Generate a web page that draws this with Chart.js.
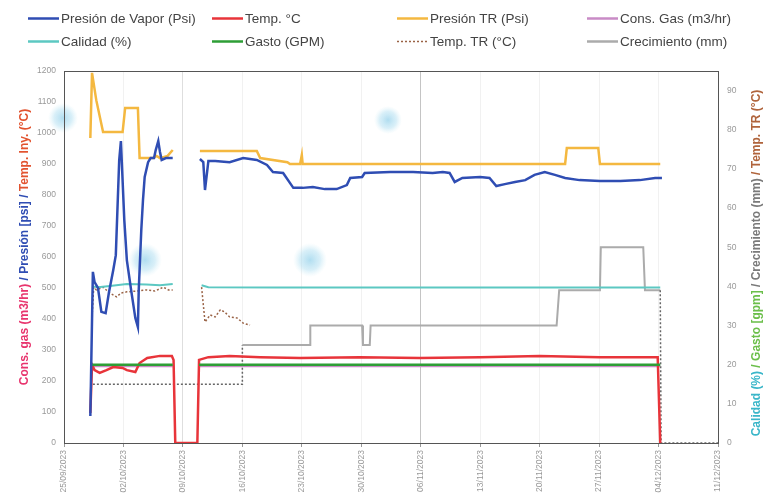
<!DOCTYPE html>
<html lang="es">
<head>
<meta charset="utf-8">
<title>Inyección de vapor</title>
<script src="https://cdn.jsdelivr.net/npm/chart.js@4.4.1/dist/chart.umd.min.js"></script>
<style>
  html, body { margin: 0; padding: 0; background: #fff; }
  #contenedor { position: relative; width: 765px; height: 501px; }
  #grafica { position: absolute; left: 0; top: 0; }
  .leyenda-item {
    position: absolute; height: 14px; display: flex; align-items: center;
    font-family: "Liberation Sans", Arial, sans-serif; font-size: 13.5px; color: #444;
    white-space: nowrap;
  }
  .leyenda-item canvas { margin-right: 2px; }
</style>
</head>
<body>
<div id="contenedor">
  <canvas id="grafica" width="765" height="501"></canvas>
</div>
<script>
/***** DATOS *****/
// etiquetas del eje x (una por semana)
const fechas = ['25/09/2023', '02/10/2023', '09/10/2023', '16/10/2023', '23/10/2023', '30/10/2023',
                '06/11/2023', '13/11/2023', '20/11/2023', '27/11/2023', '04/12/2023', '11/12/2023'];

// Presión de vapor (psi) - eje izquierdo
const vaporDia = [3.1, 3.4, 3.6, 4.0, 4.4, 4.9, 5.3, 5.8, 6.1, 6.5, 6.7, 7.1, 7.4, 7.9, 8.4, 8.7, 8.8, 9.1, 9.3, 9.5,
                  9.9, 10.2, 10.6, 10.8, 11.1, 11.3, 11.5, 12.0, 12.8, 14.4,
                  16.0, 16.4, 16.6, 17.0, 17.8, 19.5, 21.1, 22.7, 23.9, 24.6, 25.8, 27.0, 28.1, 29.3, 30.7, 32.1,
                  33.3, 33.7, 35.1, 35.4, 38.4, 41.1, 43.4, 44.6, 45.4, 46.0, 46.9, 49.0, 50.1, 50.9, 51.9,
                  53.1, 54.3, 55.4, 56.6, 57.8, 59.0, 60.7, 63.1, 65.5, 67.8, 69.6, 70.4];
const vaporPsi = [87, 552, 519, 500, 423, 419, 487, 558, 606, 913, 974, 719, 590, 494, 403, 374, 494, 687, 784, 858,
                  906, 919, 919, 945, 974, 939, 913, 919, 919, null,
                  916, 906, 816, 910, 910, 906, 919, 913, 897, 874, 871, 823, 823, 826, 819, 819,
                  832, 855, 858, 871, 874, 874, 871, 874, 871, 842, 855, 858, 855, 829, 835,
                  842, 848, 865, 874, 865, 855, 848, 845, 845, 848, 855, 855];

// Temperatura de inyección (°C) - eje izquierdo
const tempDia = [3.1, 3.3, 3.6, 4.2, 5.0, 5.8, 6.9, 7.4, 8.4, 8.9, 9.8, 11.3, 12.7, 12.9, 13.1, 15.7, 15.9,
                 17.0, 19.5, 23.1, 27.8, 34.8, 41.9, 49.0, 56.0, 63.1, 69.9, 70.2];
const tempC = [97, 252, 235, 226, 235, 245, 242, 235, 229, 258, 274, 281, 281, 268, 0, 0, 268,
               277, 281, 277, 274, 277, 274, 277, 281, 277, 277, 0];

// Presión en TR (psi) - eje izquierdo
const presionTrDia = [3.1, 3.3, 3.8, 4.6, 6.9, 7.2, 8.7, 8.9, 10.5, 10.9, 11.3, 12.2, 12.8, 14.4,
                      16.0, 22.7, 23.1, 26.3, 26.6, 27.8, 28.0, 28.1, 59.0, 59.2, 62.9, 63.1, 70.2];
const presionTrPsi = [984, 1194, 1106, 1003, 1003, 1081, 1081, 919, 919, 926, 919, 926, 945, null,
                      942, 942, 919, 906, 900, 900, 929, 900, 900, 952, 952, 900, 900];

// Consumo de gas (m3/hr) - eje izquierdo
const gasDia = [3.3, 12.8, 14.4, 15.9, 70.2];
const gasM3 = [248, 248, null, 248, 248];

// Calidad (%) - eje derecho
const calidadDia = [3.3, 4.0, 5.4, 7.4, 9.7, 11.3, 12.8, 14.4, 16.2, 17.0, 25.0, 40.0, 55.0, 70.2];
const calidadPct = [40.0, 39.8, 40.1, 40.6, 40.5, 40.3, 40.6, null, 40.3, 39.8, 39.7, 39.7, 39.7, 39.7];

// Gasto (gpm) - eje derecho
const gastoDia = [3.3, 12.8, 14.4, 15.9, 70.2];
const gastoGpm = [20, 20, null, 20, 20];

// Temperatura en TR (°C) - eje derecho
const tempTrDia = [3.3, 3.5, 3.8, 4.6, 5.4, 6.2, 6.7, 7.4, 8.5, 9.7, 10.7, 11.7, 12.3, 12.8, 14.4,
                   16.2, 16.6, 17.2, 17.8, 18.4, 18.9, 19.5, 20.4, 21.1, 21.9];
const tempTrC = [32.2, 39.8, 39.1, 39.8, 38.3, 37.3, 38.3, 38.6, 38.8, 39.1, 38.8, 39.8, 39.1, 39.1, null,
                 39.8, 30.9, 32.7, 32.2, 34.0, 33.5, 32.2, 31.9, 30.6, 30.1];

// Crecimiento (mm) - eje derecho
const crecDia = [3.4, 21.0, 21.0, 29.0, 29.0, 35.1, 35.2, 36.0, 36.1, 58.0, 58.3, 63.1, 63.2, 68.2, 68.4, 70.2, 70.3, 77.0];
const crecMm = [15, 15, 25, 25, 30, 30, 25, 25, 30, 30, 39, 39, 50, 50, 39, 39, 0, 0];

/***** GRAFICA *****/
const ctx = document.getElementById('grafica');
const contenedor = document.getElementById('contenedor');
const FUENTE = '"Liberation Sans", Arial, sans-serif';

const pares = (xs, ys) => xs.map((x, i) => ({ x: x, y: ys[i] }));

function serie(label, xs, ys, color, eje, orden, extra) {
    return Object.assign({
        label: label,
        data: pares(xs, ys),
        borderColor: color,
        backgroundColor: color,
        borderWidth: 2.5,
        pointRadius: 0,
        tension: 0,
        yAxisID: eje,
        order: orden
    }, extra || {});
}

// tramos punteados del crecimiento (antes de la primera medición y después del cierre)
const tramoPunteado = s => s.p1.parsed.x <= 21.05 || s.p0.parsed.x >= 70.2;

const datasets = [
    serie('Presión de Vapor (Psi)', vaporDia, vaporPsi, '#2f4db3', 'y', 1),
    serie('Temp. °C', tempDia, tempC, '#e8343a', 'y', 4),
    serie('Presión TR (Psi)', presionTrDia, presionTrPsi, '#f4b840', 'y', 2),
    serie('Cons. Gas (m3/hr)', gasDia, gasM3, '#c98bc6', 'y', 8),
    serie('Calidad (%)', calidadDia, calidadPct, '#5cc8c2', 'y1', 5, { borderWidth: 2 }),
    serie('Gasto (GPM)', gastoDia, gastoGpm, '#2e9e36', 'y1', 3),
    serie('Temp. TR (°C)', tempTrDia, tempTrC, '#9a6346', 'y1', 6, { borderWidth: 1.5, borderDash: [2, 2] }),
    serie('Crecimiento (mm)', crecDia, crecMm, '#ababab', 'y1', 7, {
        borderWidth: 2,
        segment: {
            borderColor: s => tramoPunteado(s) ? '#666' : undefined,
            borderDash: s => tramoPunteado(s) ? [2, 2] : undefined,
            borderWidth: s => tramoPunteado(s) ? 1.5 : undefined
        }
    })
];

// titulos de los ejes en varios colores
const tituloIzq = [
    ['Cons. gas (m3/hr) ', '#e8356e'],
    ['/ Presión [psi] / ', '#2f4db3'],
    ['Temp. Iny. (°C)', '#e2532f']
];
const tituloDer = [
    ['Calidad (%) ', '#3ab6c9'],
    ['/ Gasto [gpm] ', '#6bbf4a'],
    ['/ Crecimiento (mm) ', '#7a7a7a'],
    ['/ Temp. TR (°C)', '#b0643c']
];

function tituloVertical(c, partes, cx, cy) {
    c.save();
    c.font = 'bold 12px ' + FUENTE;
    c.textBaseline = 'middle';
    c.textAlign = 'left';
    const total = partes.reduce((s, p) => s + c.measureText(p[0]).width, 0);
    c.translate(cx, cy);
    c.rotate(-Math.PI / 2);
    let x = -total / 2;
    partes.forEach(p => {
        c.fillStyle = p[1];
        c.fillText(p[0], x, 0);
        x += c.measureText(p[0]).width;
    });
    c.restore();
}

const decorado = {
    id: 'decorado',
    beforeDatasetsDraw(chart) {
        const c = chart.ctx;
        const a = chart.chartArea;
        // manchas azules difusas del fondo
        [[63, 118, 15], [388, 120, 14], [145, 260, 17], [310, 260, 17]].forEach(m => {
            const g = c.createRadialGradient(m[0], m[1], 0, m[0], m[1], m[2]);
            g.addColorStop(0, 'rgba(150,210,235,0.75)');
            g.addColorStop(0.6, 'rgba(170,220,240,0.45)');
            g.addColorStop(1, 'rgba(200,235,245,0)');
            c.fillStyle = g;
            c.beginPath();
            c.arc(m[0], m[1], m[2], 0, Math.PI * 2);
            c.fill();
        });
        c.save();
        c.strokeStyle = '#555';
        c.lineWidth = 1;
        c.strokeRect(Math.round(a.left) + 0.5, Math.round(a.top) + 0.5,
                     Math.round(a.right - a.left), Math.round(a.bottom - a.top));
        c.restore();
    },
    afterDraw(chart) {
        const c = chart.ctx;
        tituloVertical(c, tituloIzq, 25, 247);
        tituloVertical(c, tituloDer, 757, 263);
    }
};

const ticksFont = { family: FUENTE, size: 8.5 };

const grafica = new Chart(ctx, {
    type: 'line',
    data: { datasets: datasets },
    options: {
        responsive: false,
        animation: false,
        layout: { padding: { top: 71, left: 0, right: 0, bottom: 0 } },
        plugins: { legend: { display: false }, tooltip: { enabled: false } },
        scales: {
            x: {
                type: 'linear',
                min: 0,
                max: 77,
                afterFit: s => { s.height = 58; },
                border: { display: false },
                grid: {
                    color: g => g.index === 6 ? '#c4c4c4' : (g.index === 2 ? '#dedede' : '#f1f1f1'),
                    tickColor: '#999',
                    tickLength: 4
                },
                ticks: {
                    stepSize: 7,
                    autoSkip: false,
                    minRotation: 90,
                    maxRotation: 90,
                    padding: 3,
                    color: '#999',
                    font: ticksFont,
                    callback: v => fechas[Math.round(v / 7)]
                }
            },
            y: {
                position: 'left',
                min: 0,
                max: 1200,
                afterFit: s => { s.width = 64; },
                border: { display: false },
                grid: { display: false, drawTicks: false },
                ticks: { stepSize: 100, padding: 8, color: '#999', font: ticksFont, callback: v => String(v) }
            },
            y1: {
                position: 'right',
                min: 0,
                max: 95,
                afterFit: s => { s.width = 47; },
                border: { display: false },
                grid: { display: false, drawTicks: false },
                ticks: { stepSize: 10, includeBounds: false, padding: 9, color: '#999', font: ticksFont, callback: v => String(v) }
            }
        }
    },
    plugins: [decorado]
});

/***** LEYENDA *****/
const columnas = [28, 212, 397, 587];
const filas = [11, 34];

grafica.data.datasets.forEach((d, i) => {
    const item = document.createElement('div');
    item.className = 'leyenda-item';
    item.style.left = columnas[i % 4] + 'px';
    item.style.top = filas[Math.floor(i / 4)] + 'px';

    const muestra = document.createElement('canvas');
    muestra.width = 31;
    muestra.height = 14;
    const m = muestra.getContext('2d');
    m.strokeStyle = d.borderColor;
    m.lineWidth = d.borderDash ? 1.5 : 2.5;
    if (d.borderDash) m.setLineDash(d.borderDash);
    m.beginPath();
    m.moveTo(0, 7.5);
    m.lineTo(31, 7.5);
    m.stroke();

    const texto = document.createElement('span');
    texto.textContent = d.label;

    item.appendChild(muestra);
    item.appendChild(texto);
    contenedor.appendChild(item);
});
</script>
</body>
</html>
